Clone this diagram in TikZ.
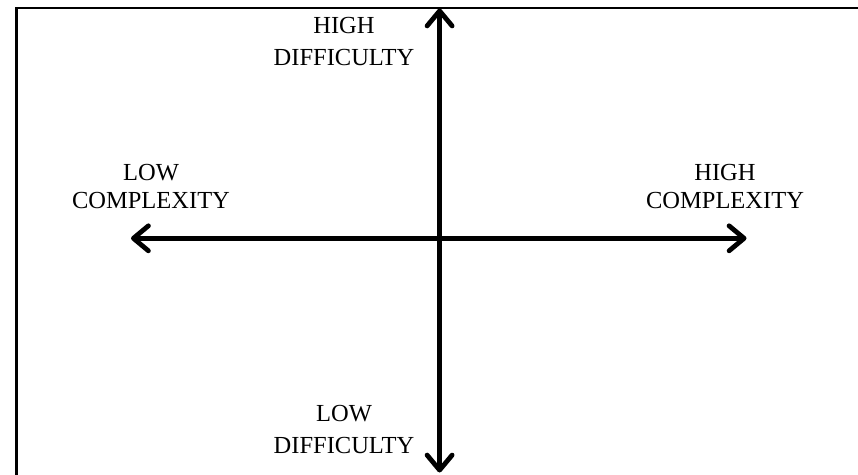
\documentclass[tikz,border=0pt]{standalone}
\usepackage{fontspec}
\setmainfont{Liberation Serif}
\usetikzlibrary{arrows.meta}
\begin{document}
\begin{tikzpicture}[x=1pt,y=-1pt,
  frame/.style={draw=black,line width=2.4pt},
  axis/.style={line width=4.8pt,{Straight Barb[length=15pt,width=25pt,round]}-{Straight Barb[length=15pt,width=25pt,round]}},
  lbl/.style={align=center,inner sep=0pt,font=\fontsize{24.5}{27.5}\selectfont},
  lbld/.style={align=center,inner sep=0pt,font=\fontsize{24.5}{32}\selectfont}]
\useasboundingbox (0,0) rectangle (858,474);
\draw[frame] (16.3,7.8) rectangle (870,490);
\coordinate (top) at (439.6,8.5);
\coordinate (bot) at (439.6,472.5);
\coordinate (lft) at (131,238.3);
\coordinate (rgt) at (746.5,238.3);
\draw[axis] (bot) -- (top);
\draw[axis] (lft) -- (rgt);
\node[lbld,anchor=base] (hd) at (344,65.5) {HIGH\\DIFFICULTY};
\node[lbld,anchor=base] (ld) at (344,453.3) {LOW\\DIFFICULTY};
\node[lbl,anchor=base] (lc) at (151,208.3) {LOW\\COMPLEXITY};
\node[lbl,anchor=base] (hc) at (725,208.3) {HIGH\\COMPLEXITY};
\end{tikzpicture}
\end{document}
